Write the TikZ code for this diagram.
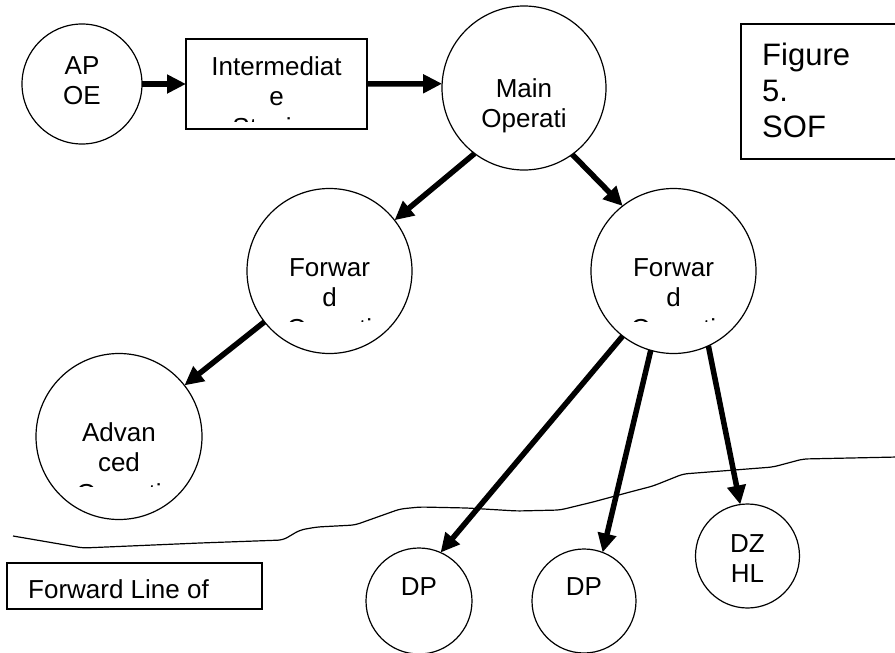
\documentclass[tikz,border=0pt]{standalone}
\usepackage{fontspec}
\setmainfont{Liberation Sans}
\usetikzlibrary{arrows.meta}
\tikzset{
  shp/.style={draw, line width=1.2pt, inner sep=0pt, outer sep=0pt},
  circ/.style={shp, circle},
  rbox/.style={shp, rectangle},
  lbl/.style={font=\fontsize{26}{30.5}\selectfont, align=center, inner sep=0pt, anchor=base},
  figlbl/.style={font=\fontsize{31}{36}\selectfont, align=left, inner sep=0pt, anchor=base west},
  leftlbl/.style={font=\fontsize{26}{30.5}\selectfont, inner sep=0pt, anchor=base west},
  arr/.style={line width=5.5pt, -{Triangle[length=19pt,width=18pt]}},
  frontline/.style={line width=1.2pt, rounded corners=5pt},
}
\begin{document}
\begin{tikzpicture}[x=1pt,y=-1pt]
\useasboundingbox (0,0) rectangle (895,653);
\clip (0,0) rectangle (895,653);
\fill[white] (0,0) rectangle (895,653);

% shapes
\node[circ, minimum size=120pt] (ap) at (82,84) {};
\node[rbox, minimum width=181pt, minimum height=90pt] (int) at (276.5,84) {};
\node[circ, minimum size=164pt] (main) at (524,88) {};
\node[rbox, minimum width=164pt, minimum height=135pt] (fig) at (823,91.5) {};
\node[circ, minimum size=165pt] (fl) at (329.5,271) {};
\node[circ, minimum size=165pt] (fr) at (673.5,271) {};
\node[circ, minimum size=166pt] (adv) at (119,436.5) {};
\node[circ, minimum size=106pt] (dp1) at (419,601) {};
\node[circ, minimum size=104pt] (dp2) at (584,601) {};
\node[circ, minimum size=104pt] (dz) at (747.5,556) {};
\node[rbox, minimum width=255pt, minimum height=46pt] (flot) at (134.5,586) {};

% texts (anchor = baseline of the last line)
\node[lbl] (tap) at (82,104.5) {AP\\OE};
\begin{scope}
  \clip (190,40) rectangle (364,121.5);
  \node[lbl] (tint) at (276.5,136) {Intermediat\\e\\Staging};
\end{scope}
\node[lbl] (tmain) at (524,127.5) {Main\\Operati};
\node[figlbl] (tfig) at (762,137) {Figure\\5.\\SOF};
\begin{scope}
  \clip (250,190) rectangle (410,321.5);
  \node[lbl] (tfl) at (329.5,337) {Forwar\\d\\Operati};
\end{scope}
\begin{scope}
  \clip (594,190) rectangle (754,321.5);
  \node[lbl] (tfr) at (673.5,337) {Forwar\\d\\Operati};
\end{scope}
\begin{scope}
  \clip (38,355) rectangle (200,486.5);
  \node[lbl] (tadv) at (119,502) {Advan\\ced\\Operati};
\end{scope}
\node[lbl] (tdp1) at (419,595) {DP};
\node[lbl] (tdp2) at (584,595) {DP};
\node[lbl] (tdz) at (747.5,582.5) {DZ\\HL};
\node[leftlbl] (tflot) at (28,598) {Forward Line of};

% connectors
\draw[arr] (ap.east) -- (int.west);
\draw[arr] (int.east) -- (main.177);
\draw[arr] (main.-127) -- (fl.38);
\draw[arr] (main.-54) -- (fr.128);
\draw[arr] (fl.-142) -- (adv.38);
\draw[arr] (fr.-128) -- (dp1.66);
\draw[arr] (fr.-106) -- (dp2.69);
\draw[arr] (fr.-65) -- (dz.98);

% forward line of troops
\draw[frontline] (13,536) -- (83,548) -- (200,543) -- (283,540) -- (300,530)
  -- (317,527) -- (355,525) -- (400,509) -- (420,507) -- (467,508) -- (517,511)
  -- (560,510) -- (593,502) -- (630,492) -- (653,486) -- (683,474) -- (773,467)
  -- (803,459) -- (898,457);
\end{tikzpicture}
\end{document}
